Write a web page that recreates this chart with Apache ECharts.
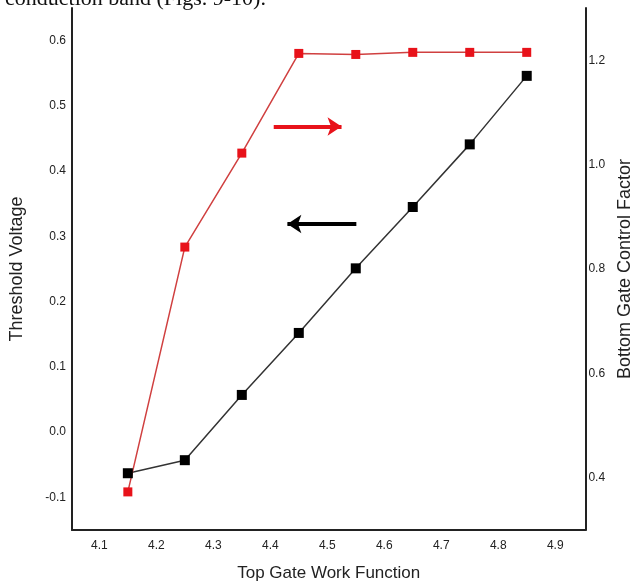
<!DOCTYPE html>
<html><head><meta charset="utf-8">
<script src="https://cdn.jsdelivr.net/npm/echarts@6/dist/echarts.min.js"></script>
<style>html,body{margin:0;padding:0;background:#fff}#c{width:642px;height:588px}</style>
</head><body><div id="c"></div>
<script>
const workFunction = [4.15, 4.25, 4.35, 4.45, 4.55, 4.65, 4.75, 4.85];
const thresholdVoltage = [-0.063, -0.043, 0.057, 0.152, 0.251, 0.345, 0.441, 0.546];
const controlFactor = [0.373, 0.842, 1.022, 1.213, 1.211, 1.215, 1.215, 1.215];
const xTicks = [4.1, 4.2, 4.3, 4.4, 4.5, 4.6, 4.7, 4.8, 4.9];
const leftTicks = [-0.1, 0.0, 0.1, 0.2, 0.3, 0.4, 0.5, 0.6];
const rightTicks = [0.4, 0.6, 0.8, 1.0, 1.2];
// annotation arrows (data coordinates)
const redArrow = [[4.406, 1.073], [4.525, 1.073]];
const blackArrow = [[4.551, 0.319], [4.430, 0.319]];

const chart = echarts.init(document.getElementById('c'), null, {renderer: 'canvas'});
const lbl = {color: '#222', fontFamily: 'Liberation Sans, Arial', fontSize: 12};
chart.setOption({
  animation: false,
  title: {
    text: 'conduction band (Figs. 9-10).',
    left: 0, top: -17,
    textStyle: {fontFamily: 'Liberation Serif, Times New Roman', fontSize: 22, fontWeight: 'normal', color: '#111'}
  },
  grid: {left: 69, right: 49, top: 8, bottom: 58},
  xAxis: {
    type: 'value', min: 4.052, max: 4.953,
    name: 'Top Gate Work Function', nameLocation: 'middle', nameGap: 35,
    nameTextStyle: {fontFamily: 'Liberation Sans, Arial', fontSize: 17, color: '#222'},
    axisLine: {show: true, onZero: false, lineStyle: {color: '#222', width: 2}},
    axisTick: {show: false},
    splitLine: {show: false},
    axisLabel: Object.assign({customValues: xTicks, margin: 10, formatter: v => v.toFixed(1)}, lbl)
  },
  yAxis: [{
    type: 'value', min: -0.15, max: 0.65, position: 'left',
    name: 'Threshold Voltage', nameLocation: 'middle', nameGap: 46, nameRotate: 90,
    nameTextStyle: {fontFamily: 'Liberation Sans, Arial', fontSize: 18, color: '#222'},
    axisLine: {show: true, onZero: false, lineStyle: {color: '#222', width: 2}},
    axisTick: {show: false},
    splitLine: {show: false},
    axisLabel: Object.assign({customValues: leftTicks, margin: 6, formatter: v => v.toFixed(1)}, lbl)
  }, {
    type: 'value', min: 0.3, max: 1.3, position: 'right',
    name: 'Bottom Gate Control Factor', nameLocation: 'middle', nameGap: 30, nameRotate: 90,
    nameTextStyle: {fontFamily: 'Liberation Sans, Arial', fontSize: 18, color: '#222'},
    axisLine: {show: true, onZero: false, lineStyle: {color: '#222', width: 2}},
    axisTick: {show: false},
    splitLine: {show: false},
    axisLabel: Object.assign({customValues: rightTicks, margin: 3, formatter: v => v.toFixed(1)}, lbl)
  }],
  series: [{
    type: 'line', yAxisIndex: 0,
    data: workFunction.map((x, i) => [x, thresholdVoltage[i]]),
    symbol: 'rect', symbolSize: 10,
    itemStyle: {color: '#000'},
    lineStyle: {color: '#333', width: 1.5},
    markLine: {
      silent: true, symbol: ['none', 'arrow'], symbolSize: [14, 14],
      label: {show: false},
      lineStyle: {color: '#000', width: 4, type: 'solid'},
      data: [[{coord: blackArrow[0]}, {coord: blackArrow[1]}]]
    }
  }, {
    type: 'line', yAxisIndex: 1,
    data: workFunction.map((x, i) => [x, controlFactor[i]]),
    symbol: 'rect', symbolSize: 9,
    itemStyle: {color: '#e8121a'},
    lineStyle: {color: '#d04040', width: 1.5},
    markLine: {
      silent: true, symbol: ['none', 'arrow'], symbolSize: [14, 14],
      label: {show: false},
      lineStyle: {color: '#e8121a', width: 4, type: 'solid'},
      data: [[{coord: redArrow[0]}, {coord: redArrow[1]}]]
    }
  }]
});
</script>
</body></html>
